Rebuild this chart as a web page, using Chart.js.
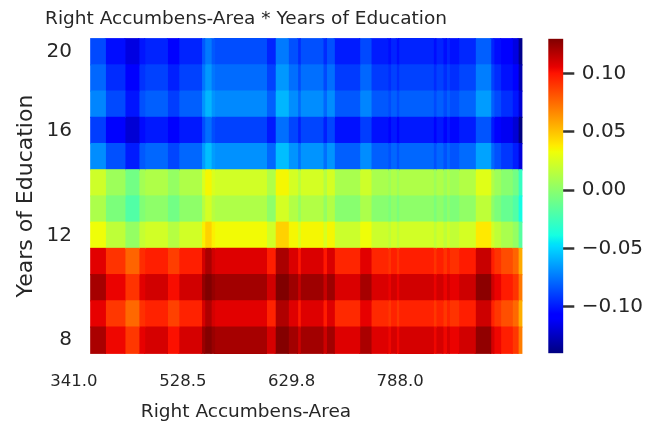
<!DOCTYPE html>
<html>
<head>
<meta charset="utf-8">
<script src="https://cdn.jsdelivr.net/npm/chart.js@4"></script>
<style>
  body { margin: 0; background: #fff; }
  #wrap { position: relative; width: 652px; height: 425px; }
  #heat { position: absolute; left: 0; top: 0; }
  #barra { position: absolute; left: 530px; top: 0; }
</style>
</head>
<body>
<div id="wrap">
  <canvas id="heat" width="652" height="425"></canvas>
  <canvas id="barra" width="122" height="425"></canvas>
</div>
<script>
// Anos de estudo (linhas do heatmap, de cima para baixo)
const yearLabels = ['20', '18', '17', '16', '15', '14', '13', '12', '11', '10', '9', '8'];
const yearTicks = ['8', '12', '16', '20'];

// Limites dos blocos de colunas (em colunas do heatmap)
const colEdges = [0, 5, 11.7, 16.5, 18.5, 26.3, 30.2, 38, 39.1, 41.3, 42.5, 60.3, 63.3, 67.8, 71, 71.9,
  79.7, 80.9, 83.6, 92.3, 96.2, 102, 102.9, 104.9, 105.7, 117.6, 118.5, 120.9, 122.1, 123.1, 126.3,
  132, 137.3, 138.4, 140.7, 144.7, 146.7, 148];

// Rótulos do eixo X
const xTickPos = [-5.8, 31.6, 69.0, 106.2];
const xTickLabels = ['341.0', '528.5', '629.8', '788.0'];

// Valores de cada célula (uma linha por ano, um valor por bloco de colunas)
const cellValues = [
  [-0.087, -0.103, -0.117, -0.101, -0.097, -0.106, -0.097, -0.083, -0.074, -0.083, -0.086, -0.097, -0.074, -0.085, -0.095, -0.085, -0.095, -0.085, -0.099, -0.087, -0.099, -0.103, -0.097, -0.103, -0.097, -0.103, -0.097, -0.103, -0.097, -0.102, -0.096, -0.081, -0.097, -0.103, -0.110, -0.117, -0.137],
  [-0.079, -0.095, -0.109, -0.093, -0.089, -0.098, -0.089, -0.075, -0.066, -0.075, -0.078, -0.089, -0.066, -0.077, -0.087, -0.077, -0.087, -0.077, -0.091, -0.079, -0.091, -0.095, -0.089, -0.095, -0.089, -0.095, -0.089, -0.095, -0.089, -0.094, -0.088, -0.073, -0.089, -0.095, -0.102, -0.109, -0.129],
  [-0.071, -0.087, -0.101, -0.085, -0.081, -0.090, -0.081, -0.067, -0.058, -0.067, -0.070, -0.081, -0.058, -0.069, -0.079, -0.069, -0.079, -0.069, -0.083, -0.071, -0.083, -0.087, -0.081, -0.087, -0.081, -0.087, -0.081, -0.087, -0.081, -0.086, -0.080, -0.065, -0.081, -0.087, -0.094, -0.101, -0.121],
  [-0.090, -0.106, -0.120, -0.104, -0.100, -0.109, -0.100, -0.086, -0.077, -0.086, -0.089, -0.100, -0.077, -0.088, -0.098, -0.088, -0.098, -0.088, -0.102, -0.090, -0.102, -0.106, -0.100, -0.106, -0.100, -0.106, -0.100, -0.106, -0.100, -0.105, -0.099, -0.084, -0.100, -0.106, -0.113, -0.120, -0.140],
  [-0.069, -0.085, -0.099, -0.083, -0.079, -0.088, -0.079, -0.065, -0.056, -0.065, -0.068, -0.079, -0.056, -0.067, -0.077, -0.067, -0.077, -0.067, -0.081, -0.069, -0.081, -0.085, -0.079, -0.085, -0.079, -0.085, -0.079, -0.085, -0.079, -0.084, -0.078, -0.063, -0.079, -0.085, -0.092, -0.099, -0.119],
  [0.022, 0.006, -0.008, 0.008, 0.012, 0.003, 0.012, 0.026, 0.035, 0.026, 0.023, 0.012, 0.035, 0.024, 0.014, 0.024, 0.014, 0.024, 0.010, 0.022, 0.010, 0.006, 0.012, 0.006, 0.012, 0.006, 0.012, 0.006, 0.012, 0.007, 0.013, 0.028, 0.012, 0.006, -0.001, -0.008, -0.028],
  [0.011, -0.005, -0.019, -0.003, 0.001, -0.008, 0.001, 0.015, 0.024, 0.015, 0.012, 0.001, 0.024, 0.013, 0.003, 0.013, 0.003, 0.013, -0.001, 0.011, -0.001, -0.005, 0.001, -0.005, 0.001, -0.005, 0.001, -0.005, 0.001, -0.004, 0.002, 0.017, 0.001, -0.005, -0.012, -0.019, -0.039],
  [0.033, 0.017, 0.003, 0.019, 0.023, 0.014, 0.023, 0.037, 0.046, 0.037, 0.034, 0.023, 0.046, 0.035, 0.025, 0.035, 0.025, 0.035, 0.021, 0.033, 0.021, 0.017, 0.023, 0.017, 0.023, 0.017, 0.023, 0.017, 0.023, 0.018, 0.024, 0.039, 0.023, 0.017, 0.010, 0.003, -0.017],
  [0.107, 0.091, 0.077, 0.093, 0.097, 0.088, 0.097, 0.111, 0.120, 0.111, 0.108, 0.097, 0.120, 0.109, 0.099, 0.109, 0.099, 0.109, 0.095, 0.107, 0.095, 0.091, 0.097, 0.091, 0.097, 0.091, 0.097, 0.091, 0.097, 0.092, 0.098, 0.113, 0.097, 0.091, 0.084, 0.077, 0.057],
  [0.121, 0.105, 0.091, 0.107, 0.111, 0.102, 0.111, 0.125, 0.130, 0.125, 0.122, 0.111, 0.130, 0.123, 0.113, 0.123, 0.113, 0.123, 0.109, 0.121, 0.109, 0.105, 0.111, 0.105, 0.111, 0.105, 0.111, 0.105, 0.111, 0.106, 0.112, 0.127, 0.111, 0.105, 0.098, 0.091, 0.071],
  [0.106, 0.090, 0.076, 0.092, 0.096, 0.087, 0.096, 0.110, 0.119, 0.110, 0.107, 0.096, 0.119, 0.108, 0.098, 0.108, 0.098, 0.108, 0.094, 0.106, 0.094, 0.090, 0.096, 0.090, 0.096, 0.090, 0.096, 0.090, 0.096, 0.091, 0.097, 0.112, 0.096, 0.090, 0.083, 0.076, 0.056],
  [0.120, 0.104, 0.090, 0.106, 0.110, 0.101, 0.110, 0.124, 0.129, 0.124, 0.121, 0.110, 0.129, 0.122, 0.112, 0.122, 0.112, 0.122, 0.108, 0.120, 0.108, 0.104, 0.110, 0.104, 0.110, 0.104, 0.110, 0.104, 0.110, 0.105, 0.111, 0.126, 0.110, 0.104, 0.097, 0.090, 0.070]
];

// Escala de cores (barra lateral)
const cbMin = -0.14;
const cbMax = 0.13;
const cbTicks = [-0.10, -0.05, 0, 0.05, 0.10];

const textColor = '#262626';
const fontFamily = 'DejaVu Sans';

// Mapa de cores "jet" do matplotlib
const jetR = [[0, 0], [0.35, 0], [0.66, 1], [0.89, 1], [1, 0.5]];
const jetG = [[0, 0], [0.125, 0], [0.375, 1], [0.64, 1], [0.91, 0], [1, 0]];
const jetB = [[0, 0.5], [0.11, 1], [0.34, 1], [0.65, 0], [1, 0]];

function interp(t, pts) {
    for (let i = 1; i < pts.length; i++) {
        if (t <= pts[i][0]) {
            const [x0, y0] = pts[i - 1];
            const [x1, y1] = pts[i];
            return y0 + (y1 - y0) * (t - x0) / (x1 - x0);
        }
    }
    return pts[pts.length - 1][1];
}

function jet(t) {
    t = Math.min(1, Math.max(0, t));
    const r = Math.round(255 * interp(t, jetR));
    const g = Math.round(255 * interp(t, jetG));
    const b = Math.round(255 * interp(t, jetB));
    return `rgb(${r}, ${g}, ${b})`;
}

function corValor(v) {
    return jet((v - cbMin) / (cbMax - cbMin));
}

function gradiente(chart) {
    const a = chart.chartArea;
    if (!a) return '#888';
    const g = chart.ctx.createLinearGradient(0, a.bottom, 0, a.top);
    [0, 0.11, 0.125, 0.34, 0.35, 0.375, 0.64, 0.65, 0.66, 0.89, 0.91, 1].forEach(t => g.addColorStop(t, jet(t)));
    return g;
}

// Um dataset por bloco de colunas, barras horizontais flutuantes
const datasets = [];
for (let j = 0; j < colEdges.length - 1; j++) {
    datasets.push({
        data: yearLabels.map(() => [colEdges[j], colEdges[j + 1]]),
        backgroundColor: cellValues.map(row => corValor(row[j])),
        borderWidth: 0,
        barPercentage: 1,
        categoryPercentage: 1,
        grouped: false,
        clip: false,
        inflateAmount: 0.6
    });
}

new Chart(document.getElementById('heat'), {
    type: 'bar',
    data: { labels: yearLabels, datasets: datasets },
    options: {
        indexAxis: 'y',
        responsive: false,
        animation: false,
        devicePixelRatio: 1,
        layout: { padding: { left: 40, right: 200, top: 0, bottom: 0 } },
        plugins: {
            legend: { display: false },
            tooltip: { enabled: false },
            title: {
                display: true,
                text: 'Right Accumbens-Area * Years of Education',
                color: textColor,
                font: { family: fontFamily, size: 18.5, weight: 'normal' },
                padding: { top: 8.5, bottom: 8 }
            }
        },
        scales: {
            x: {
                type: 'linear',
                min: -6.1,
                max: 112.7,
                grid: { display: false, drawTicks: false },
                border: { display: false },
                afterBuildTicks: s => { s.ticks = xTickPos.map(v => ({ value: v })); },
                afterFit: s => { s.height = 71.7; },
                ticks: {
                    autoSkip: false,
                    maxRotation: 0,
                    padding: 19,
                    color: textColor,
                    font: { family: fontFamily, size: 16.5 },
                    callback: (v, i) => xTickLabels[i]
                },
                title: {
                    display: true,
                    text: 'Right Accumbens-Area',
                    color: textColor,
                    font: { family: fontFamily, size: 18.5 },
                    padding: { top: 0, bottom: 2 }
                }
            },
            y: {
                type: 'category',
                grid: { display: false, drawTicks: false },
                border: { display: false },
                afterFit: s => { s.width = 33; },
                ticks: {
                    autoSkip: false,
                    padding: 1,
                    color: textColor,
                    font: { family: fontFamily, size: 20 },
                    callback: (v, i) => yearTicks.includes(yearLabels[i]) ? yearLabels[i] : ''
                },
                title: {
                    display: true,
                    text: 'Years of Education',
                    color: textColor,
                    font: { family: fontFamily, size: 22 },
                    padding: { top: -27.2, bottom: 0 }
                }
            },
            // eixo vazio à direita, só para reservar espaço
            yRight: {
                type: 'category',
                position: 'right',
                grid: { display: false, drawTicks: false },
                border: { display: false },
                ticks: { display: false },
                afterFit: s => { s.width = 33; }
            }
        }
    }
});

// Barra de cores
new Chart(document.getElementById('barra'), {
    type: 'bar',
    data: {
        labels: [''],
        datasets: [{
            data: [[cbMin, cbMax]],
            backgroundColor: ctx => gradiente(ctx.chart),
            borderWidth: 0,
            barPercentage: 1,
            categoryPercentage: 1
        }]
    },
    options: {
        responsive: false,
        animation: false,
        devicePixelRatio: 1,
        layout: { padding: { left: 18.3, right: 0, top: 38.7, bottom: 71.7 } },
        plugins: { legend: { display: false }, tooltip: { enabled: false } },
        scales: {
            x: { display: false },
            y: {
                position: 'right',
                min: cbMin,
                max: cbMax,
                border: { display: false },
                grid: { drawOnChartArea: false, drawTicks: true, tickLength: 11, tickWidth: 2.5, tickColor: '#333333' },
                afterBuildTicks: s => { s.ticks = cbTicks.map(v => ({ value: v })); },
                afterFit: s => { s.width = 88.7; },
                ticks: {
                    padding: 7.5,
                    color: textColor,
                    font: { family: fontFamily, size: 20 },
                    callback: v => (v < -1e-9 ? '\u2212' : '') + Math.abs(v).toFixed(2)
                }
            }
        }
    }
});
</script>
</body>
</html>
